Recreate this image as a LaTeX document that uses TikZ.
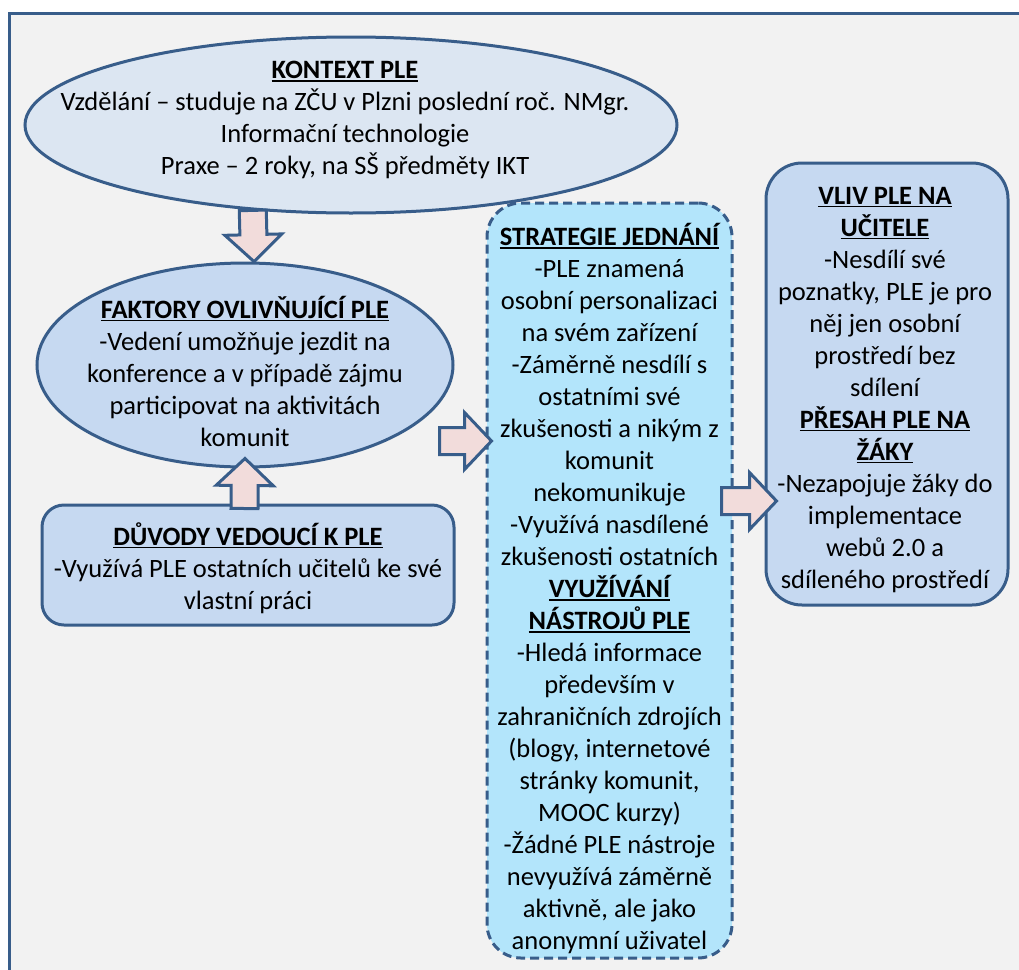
\documentclass[tikz,border=0pt]{standalone}
\usepackage{fontspec}
\setmainfont{Carlito}
\usetikzlibrary{calc,shapes.geometric}

\definecolor{lineblue}{HTML}{385D8A}
\definecolor{pagegray}{HTML}{F2F2F2}
\definecolor{paleblue}{HTML}{DCE6F2}
\definecolor{midblue}{HTML}{C6D9F1}
\definecolor{skyblue}{HTML}{B3E5FB}
\definecolor{arrowpink}{HTML}{F2DCDB}

% bold underlined heading
\newsavebox{\hdbox}
\newcommand{\hd}[1]{\sbox{\hdbox}{\bfseries #1}\rlap{\rule[-3pt]{\wd\hdbox}{1.5pt}}\usebox{\hdbox}}

\begin{document}
\begin{tikzpicture}[x=1pt, y=-1pt,
    every node/.style={font=\fontsize{26.5}{32}\selectfont, align=center, inner sep=0pt},
    shapeline/.style={draw=lineblue, line width=3pt},
    oval/.style={shapeline, ellipse},
    roundbox/.style={shapeline, rectangle, rounded corners=#1},
    blockarrow/.style={draw=lineblue, fill=arrowpink, line width=3pt, line join=miter,
      to path={let \p1=(\tikztostart), \p2=(\tikztotarget),
        \n1={atan2(\y2-\y1,\x2-\x1)} in
        ($(\p1)+({\n1+90}:13.5pt)$)
        -- ($(\p2)+(\n1:-27pt)+({\n1+90}:13.5pt)$)
        -- ($(\p2)+(\n1:-27pt)+({\n1+90}:28.5pt)$)
        -- (\p2)
        -- ($(\p2)+(\n1:-27pt)+({\n1-90}:28.5pt)$)
        -- ($(\p2)+(\n1:-27pt)+({\n1-90}:13.5pt)$)
        -- ($(\p1)+({\n1-90}:13.5pt)$) -- cycle}}]

    % Page and frame
    \useasboundingbox (0,0) rectangle (1019,969);
    \fill[white] (0,0) rectangle (1019,969);
    \draw[shapeline, fill=pagegray] (9,13) rectangle (1040,990);

    % Shapes
    \node[oval, fill=paleblue, minimum width=652, minimum height=176] (kontext) at (351,125) {};
    \node[oval, fill=midblue, minimum width=416, minimum height=204] (faktory) at (245,365) {};
    \node[roundbox=22, fill=midblue, minimum width=412, minimum height=120] (duvody) at (248,565) {};
    \node[roundbox=34, fill=skyblue, dash pattern=on 9pt off 5pt,
          minimum width=245, minimum height=755] (strategie) at (609.5,580.5) {};
    \node[roundbox=36, fill=midblue, minimum width=242, minimum height=442] (vliv) at (887,384) {};

    % Texts
    \node (kontext-txt) at ($(kontext)+(-6,-5)$)
      {\hd{KONTEXT PLE}\\Vzdělání – studuje na ZČU v Plzni poslední roč. NMgr.\\Informační technologie\\Praxe – 2 roky, na SŠ předměty IKT};
    \node (faktory-txt) at ($(faktory)+(0,6)$)
      {\hd{FAKTORY OVLIVŇUJÍCÍ PLE}\\-Vedení umožňuje jezdit na\\konference a v případě zájmu\\participovat na aktivitách\\komunit};
    \node (duvody-txt) at ($(duvody)+(0,3)$)
      {\hd{DŮVODY VEDOUCÍ K PLE}\\-Využívá PLE ostatních učitelů ke své\\vlastní práci};
    \node (strategie-txt) at ($(strategie)+(0,8)$)
      {\hd{STRATEGIE JEDNÁNÍ}\\-PLE znamená\\osobní personalizaci\\na svém zařízení\\-Záměrně nesdílí s\\ostatními své\\zkušenosti a nikým z\\komunit\\nekomunikuje\\-Využívá nasdílené\\zkušenosti ostatních\\\hd{VYUŽÍVÁNÍ}\\\hd{NÁSTROJŮ PLE}\\-Hledá informace\\především v\\zahraničních zdrojích\\(blogy, internetové\\stránky komunit,\\MOOC kurzy)\\-Žádné PLE nástroje\\nevyužívá záměrně\\aktivně, ale jako\\anonymní uživatel};
    \node (vliv-txt) at ($(vliv)+(-2,6)$)
      {\hd{VLIV PLE NA}\\\hd{UČITELE}\\-Nesdílí své\\poznatky, PLE je pro\\něj jen osobní\\prostředí bez\\sdílení\\\hd{PŘESAH PLE NA}\\\hd{ŽÁKY}\\-Nezapojuje žáky do\\implementace\\webů 2.0 a\\sdíleného prostředí};

    % Arrow ends
    \coordinate (a1s) at (kontext.221);
    \coordinate (a1t) at (faktory.85);
    \coordinate (a2s) at ($(duvody.north)+(-3.5,5)$);
    \coordinate (a2t) at ($(faktory.south)+(0,-10)$);
    \coordinate (a3s) at ($(faktory.east)+(-15,76)$);
    \coordinate (a3t) at ($(faktory.east -| strategie.west)+(6,76)$);
    \coordinate (a4s) at ($(vliv.west)+(-43,117)$);
    \coordinate (a4t) at ($(vliv.west)+(12,117)$);

    % Block arrows
    \foreach \s/\t in {a1s/a1t, a2s/a2t, a3s/a3t, a4s/a4t}{
        \draw[blockarrow] (\s) to (\t);
      }
\end{tikzpicture}
\end{document}
